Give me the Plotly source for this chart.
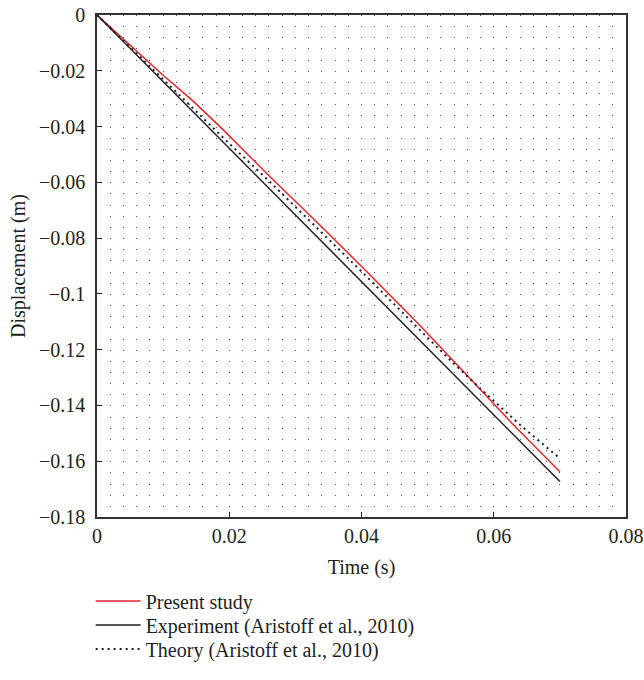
import plotly.graph_objects as go

# Present study
t_present = [0, 0.005, 0.010, 0.0145, 0.0191, 0.0259, 0.0340, 0.0413, 0.0490, 0.0564, 0.0630, 0.070]
y_present = [0, -0.0108, -0.0216, -0.0308, -0.0412, -0.0574, -0.0760, -0.0932, -0.1117, -0.1303, -0.1470, -0.1638]

# Experiment (Aristoff et al., 2010)
t_exp = [0, 0.035, 0.070]
y_exp = [0, -0.0836, -0.1673]

# Theory (Aristoff et al., 2010)
t_theory = [0, 0.010, 0.020, 0.026, 0.034, 0.041, 0.048, 0.053, 0.058, 0.064, 0.070]
y_theory = [0, -0.0232, -0.0461, -0.0595, -0.0780, -0.0943, -0.1110, -0.1228, -0.1340, -0.1470, -0.1590]

x_ticks = [0, 0.02, 0.04, 0.06, 0.08]
y_ticks = [0, -0.02, -0.04, -0.06, -0.08, -0.1, -0.12, -0.14, -0.16, -0.18]

FONT = "Liberation Serif"

fig = go.Figure()
fig.add_trace(go.Scatter(x=t_present, y=y_present, mode="lines", name="Present study",
                         line=dict(color="#e8262b", width=1.5), legend="legend"))
fig.add_trace(go.Scatter(x=t_exp, y=y_exp, mode="lines", name="Experiment (Aristoff et al., 2010)",
                         line=dict(color="#231f20", width=1.5), legend="legend2"))
fig.add_trace(go.Scatter(x=t_theory, y=y_theory, mode="lines", name="Theory (Aristoff et al., 2010)",
                         line=dict(color="#231f20", width=2, dash="2px,4px"), legend="legend3"))

def leg(ypaper):
    return dict(x=-0.012, y=ypaper, xanchor="left", yanchor="middle",
                font=dict(family=FONT, size=20, color="#231f20"),
                itemwidth=45, bgcolor="rgba(0,0,0,0)")

grid_dash = "1px,10.156px"
fig.update_layout(
    width=644, height=680,
    margin=dict(l=97, r=18, t=15, b=163, autoexpand=False),
    plot_bgcolor="white", paper_bgcolor="white",
    font=dict(family=FONT, size=20, color="#231f20"),
    showlegend=True,
    legend=leg(-0.1673),
    legend2=leg(-0.2151),
    legend3=leg(-0.2629),
    xaxis=dict(range=[0, 0.08], tickvals=x_ticks, ticks="inside", ticklen=5,
               tickcolor="#231f20", showline=True, linecolor="#333333", linewidth=1.5,
               mirror=True, zeroline=False, showgrid=True, gridcolor="#555555",
               gridwidth=1, griddash=grid_dash, automargin=False,
               minor=dict(dtick=0.002, showgrid=True, gridcolor="#555555", gridwidth=1,
                          griddash=grid_dash),
               tickfont=dict(family=FONT, size=20),
               title=dict(text="Time (s)", font=dict(family=FONT, size=20), standoff=14)),
    yaxis=dict(range=[-0.18, 0], tickvals=y_ticks, ticks="inside", ticklen=5,
               tickcolor="#231f20", showline=True, linecolor="#333333", linewidth=1.5,
               mirror=True, zeroline=False, showgrid=False, automargin=False,
               tickfont=dict(family=FONT, size=20), ticklabelstandoff=6,
               title=dict(text="Displacement (m)", font=dict(family=FONT, size=20), standoff=8)),
)

fig.write_html("out.html")
